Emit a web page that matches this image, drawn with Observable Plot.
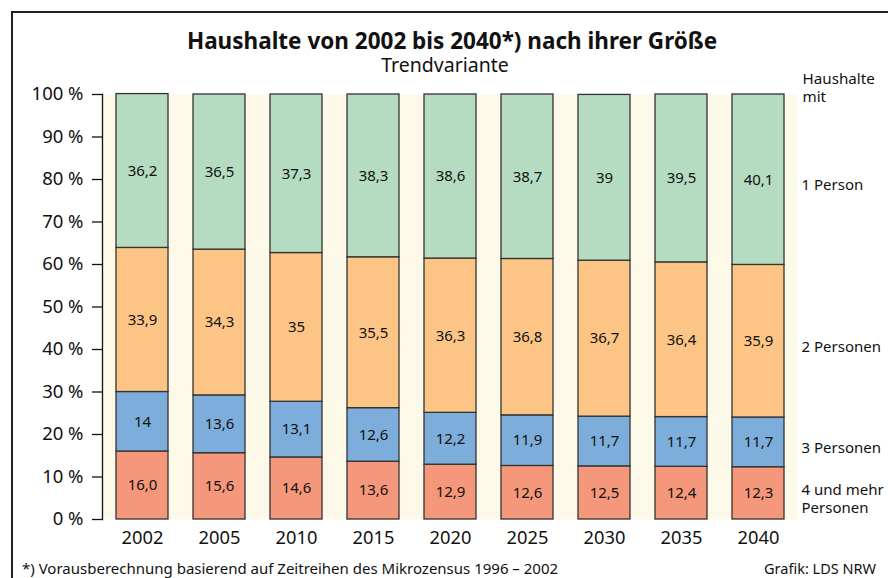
<!DOCTYPE html>
<html>
<head>
<meta charset="utf-8">
<script src="https://cdn.jsdelivr.net/npm/d3@7"></script>
<script src="https://cdn.jsdelivr.net/npm/@observablehq/plot@0.6"></script>
<style>
  html, body { margin: 0; padding: 0; background: #fff; }
  #wrap { position: relative; width: 888px; height: 578px; overflow: hidden; font-family: "Noto Sans", sans-serif; color: #111; }
  #border { position: absolute; left: 11px; top: 11px; width: 900px; height: 600px; border-left: 2px solid #222; border-top: 2px solid #222; }
  #title { position: absolute; left: 0; width: 904px; top: 30px; text-align: center; font-weight: bold; font-size: 22.5px; line-height: 1; }
  #subtitle { position: absolute; left: 0; width: 890px; top: 55px; text-align: center; font-size: 19.5px; line-height: 1; }
  #chart { position: absolute; left: 0; top: 0; }
  #foot { position: absolute; left: 22px; top: 558px; font-size: 15px; }
  #credit { position: absolute; right: 12px; top: 558px; font-size: 14.5px; }
</style>
</head>
<body>
<div id="wrap">
  <div id="border"></div>
  <div id="chart"></div>
  <div id="title">Haushalte von 2002 bis 2040*) nach ihrer Größe</div>
  <div id="subtitle">Trendvariante</div>
  <div id="foot">*) Vorausberechnung basierend auf Zeitreihen des Mikrozensus 1996 – 2002</div>
  <div id="credit">Grafik: LDS NRW</div>
</div>
<script>
const years = ["2002", "2005", "2010", "2015", "2020", "2025", "2030", "2035", "2040"];
const groups = ["4 und mehr Personen", "3 Personen", "2 Personen", "1 Person"];
const fourPlus = [16.0, 15.6, 14.6, 13.6, 12.9, 12.6, 12.5, 12.4, 12.3];
const three    = [14, 13.6, 13.1, 12.6, 12.2, 11.9, 11.7, 11.7, 11.7];
const two      = [33.9, 34.3, 35, 35.5, 36.3, 36.8, 36.7, 36.4, 35.9];
const one      = [36.2, 36.5, 37.3, 38.3, 38.6, 38.7, 39, 39.5, 40.1];
const labelsFour = ["16,0", "15,6", "14,6", "13,6", "12,9", "12,6", "12,5", "12,4", "12,3"];
const yTicks = [0, 10, 20, 30, 40, 50, 60, 70, 80, 90, 100];
const colors = ["#f4977a", "#7caddb", "#fdc585", "#b5dbc1"];
const legendLabels = ["4 und mehr\nPersonen", "3 Personen", "2 Personen", "1 Person"];

const series = [fourPlus, three, two, one];
const fmt = v => String(v).replace(".", ",");
const data = [];
groups.forEach((g, gi) => {
  years.forEach((yr, i) => {
    data.push({
      year: yr,
      group: g,
      value: series[gi][i],
      label: gi === 0 ? labelsFour[i] : fmt(series[gi][i])
    });
  });
});
const lastYear = years[years.length - 1];
const legendData = data.filter(d => d.year === lastYear).map((d, i) => ({...d, legend: legendLabels[i]}));

const chart = Plot.plot({
  width: 888,
  height: 555,
  marginTop: 94,
  marginBottom: 36,
  marginLeft: 102,
  marginRight: 91,
  style: { fontFamily: "Noto Sans, sans-serif", background: "transparent", color: "#111" },
  x: { domain: years, paddingInner: 0.33, paddingOuter: 0.13, label: null, tickSize: 0, tickPadding: 12 },
  y: { domain: [0, 100], ticks: yTicks, tickFormat: d => d + " %", label: null, tickSize: 10, tickPadding: 8 },
  color: { domain: groups, range: colors },
  marks: [
    Plot.frame({ fill: "#fdf9e9", stroke: null }),
    Plot.axisY({ ticks: yTicks, tickFormat: d => d + " %", tickSize: 10, tickPadding: 9, fontSize: 18.5, label: null, stroke: "#111", strokeWidth: 1.3 }),
    Plot.axisX({ tickSize: 0, tickPadding: 11, fontSize: 18.3, label: null }),
    Plot.frame({ anchor: "left", stroke: "#111", strokeWidth: 1.3 }),
    Plot.barY(data, Plot.stackY({ x: "year", y: "value", z: "group", fill: "group", order: groups, stroke: "#333", strokeWidth: 1.3 })),
    Plot.text(data, Plot.stackY({ x: "year", y: "value", z: "group", order: groups, text: "label", fontSize: 15, fill: "#111" })),
    Plot.text(legendData, Plot.stackY({ x: "year", y: "value", z: "group", order: groups, text: "legend", textAnchor: "start", dx: 43, dy: 5, fontSize: 15, fill: "#111", lineHeight: 1.2 })),
    Plot.text(["Haushalte\nmit"], { frameAnchor: "top-right", text: d => d, textAnchor: "start", dx: 5, dy: -7, lineAnchor: "middle", fontSize: 15.2, fill: "#111", lineHeight: 1.2 })
  ]
});
document.getElementById("chart").appendChild(chart);
</script>
</body>
</html>
